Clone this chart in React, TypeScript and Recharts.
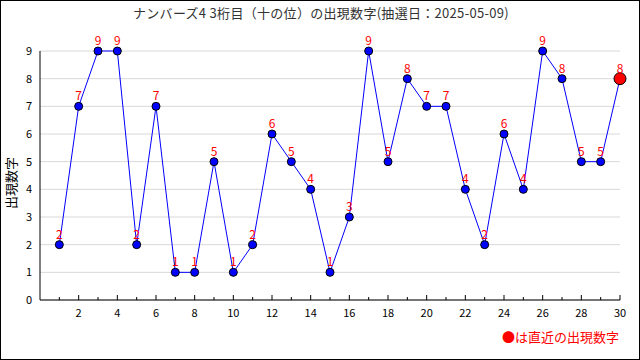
import { LineChart, Line, XAxis, YAxis, CartesianGrid, LabelList } from "recharts"

const draws = [1, 2, 3, 4, 5, 6, 7, 8, 9, 10, 11, 12, 13, 14, 15, 16, 17, 18, 19, 20, 21, 22, 23, 24, 25, 26, 27, 28, 29, 30]
const digits = [2, 7, 9, 9, 2, 7, 1, 1, 5, 1, 2, 6, 5, 4, 1, 3, 9, 5, 8, 7, 7, 4, 2, 6, 4, 9, 8, 5, 5, 8]
const yTicks = [0, 1, 2, 3, 4, 5, 6, 7, 8, 9]

const TITLE = "ナンバーズ4 3桁目（十の位）の出現数字(抽選日：2025-05-09)"
const FONT = "'Noto Sans CJK JP', 'DejaVu Sans', sans-serif"

const data = draws.map((d, i) => ({ draw: d, value: digits[i] }))
const lastIndex = data.length - 1

function XTick(props: any) {
  const { x, y, payload } = props
  const v = payload.value
  const even = v % 2 === 0
  return (
    <g>
      <line x1={x} x2={x} y1={y} y2={y - (even ? 5 : 3)} stroke="#000" />
      {even && (
        <text x={x} y={y + 17} textAnchor="middle" fontSize={11} fill="#000" fontFamily={FONT}>
          {v}
        </text>
      )}
    </g>
  )
}

function Dot(props: any) {
  const { cx, cy, index } = props
  if (index === lastIndex) {
    return <circle key={index} cx={cx} cy={cy} r={6} fill="#ff0000" stroke="#000" strokeWidth={1} />
  }
  return <circle key={index} cx={cx} cy={cy} r={4} fill="#0000ff" stroke="#000" strokeWidth={1} />
}

export default function App() {
  return (
    <div style={{ position: "absolute", left: 0, top: 0, width: 640, height: 360, boxSizing: "border-box", border: "1px solid #000", background: "#fff", fontFamily: FONT }}>
      <div style={{ position: "absolute", left: 0, top: 2, width: 640, textAlign: "center", fontSize: 13, letterSpacing: 0.3, color: "#333" }}>
        {TITLE}
      </div>
      <div style={{ position: "absolute", left: 3, top: 182, transform: "translateY(-50%) rotate(-90deg)", transformOrigin: "center", fontSize: 13, color: "#000", width: 14, textAlign: "center", lineHeight: "14px", whiteSpace: "nowrap", display: "flex", justifyContent: "center" }}>
        出現数字
      </div>
      <div style={{ position: "absolute", right: 20, top: 326, fontSize: 13, color: "#ff0000" }}>
        ●は直近の出現数字
      </div>
      <div style={{ position: "absolute", left: -1, top: -1 }}>
        <LineChart width={640} height={360} data={data} margin={{ top: 51, right: 20, bottom: 30, left: 10 }}>
          <CartesianGrid vertical={false} stroke="#d8d8d8" />
          <XAxis
            type="number"
            dataKey="draw"
            domain={[0, 30]}
            ticks={draws}
            interval={0}
            height={30}
            tickSize={0}
            tickMargin={0}
            tick={<XTick />}
            axisLine={{ stroke: "#000" }}
            tickLine={false}
          />
          <YAxis
            type="number"
            domain={[0, 9]}
            ticks={yTicks}
            interval={0}
            width={30}
            tickLine={false}
            axisLine={{ stroke: "#000" }}
            tick={{ fontSize: 11, fill: "#000", fontFamily: FONT }}
          />
          <Line
            type="linear"
            dataKey="value"
            stroke="#0000ff"
            strokeWidth={1}
            dot={<Dot />}
            activeDot={false}
            isAnimationActive={false}
          >
            <LabelList dataKey="value" position="top" offset={6} fill="#ff0000" fontSize={12} fontFamily={FONT} />
          </Line>
        </LineChart>
      </div>
    </div>
  )
}
